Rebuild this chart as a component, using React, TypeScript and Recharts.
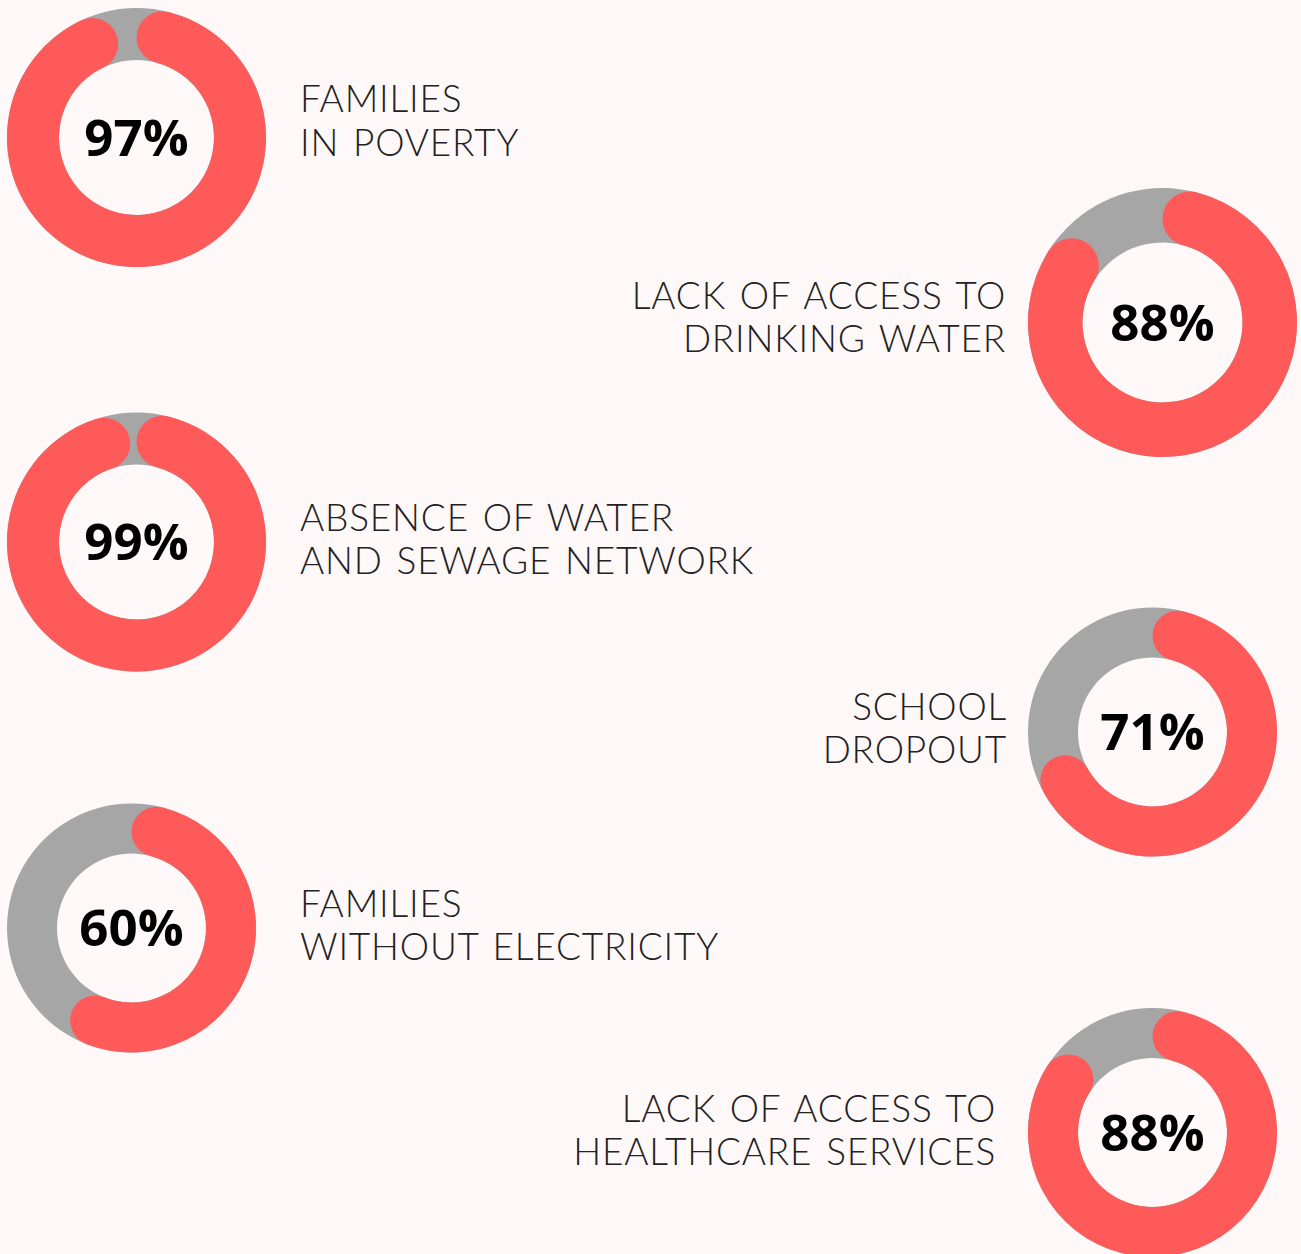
import React from "react";
import { PieChart, Pie, Cell } from "recharts";

// share of households affected, in percent
const values = [97, 88, 99, 71, 60, 88];
const captions = [
  ["FAMILIES", "IN POVERTY"],
  ["LACK OF ACCESS TO", "DRINKING WATER"],
  ["ABSENCE OF WATER", "AND SEWAGE NETWORK"],
  ["SCHOOL", "DROPOUT"],
  ["FAMILIES", "WITHOUT ELECTRICITY"],
  ["LACK OF ACCESS TO", "HEALTHCARE SERVICES"],
];

// layout of each ring and its caption
const rings = [
  { cx: 136.5, cy: 137.5, outer: 129.5, inner: 77.5, tx: 300, anchor: "start", y1: 112, y2: 156 },
  { cx: 1162.5, cy: 322.5, outer: 134.5, inner: 80, tx: 1006, anchor: "end", y1: 309, y2: 352 },
  { cx: 136.5, cy: 542, outer: 129.5, inner: 77.5, tx: 300, anchor: "start", y1: 531, y2: 574 },
  { cx: 1152.5, cy: 732, outer: 124.5, inner: 74.5, tx: 1007, anchor: "end", y1: 720, y2: 763 },
  { cx: 131.5, cy: 928, outer: 124.5, inner: 74.5, tx: 300, anchor: "start", y1: 917, y2: 960 },
  { cx: 1152.5, cy: 1132.5, outer: 124.5, inner: 74.5, tx: 996, anchor: "end", y1: 1122, y2: 1165 },
];

const RED = "#FF5A5A";
const GREY = "#A6A6A6";
const BG = "#FEF8F8";

const captionStyle = {
  fontFamily: "Lato, sans-serif",
  fontWeight: 300,
  fontSize: 37,
  letterSpacing: 0.8,
  wordSpacing: 3,
  fill: "#222",
};

export default function App() {
  return (
    <div style={{ width: 1301, height: 1254, background: BG }}>
      <style>{`body{margin:0;background:${BG}}`}</style>
      <PieChart width={1301} height={1254} margin={{ top: 0, right: 0, bottom: 0, left: 0 }}>
        {rings.map((r, i) => (
          <Pie
            key={`track-${i}`}
            data={[{ name: "track", value: 100 }]}
            dataKey="value"
            cx={r.cx}
            cy={r.cy}
            innerRadius={r.inner}
            outerRadius={r.outer}
            startAngle={90}
            endAngle={-270}
            stroke="none"
            fill={GREY}
            isAnimationActive={false}
          />
        ))}
        {rings.map((r, i) => (
          <Pie
            key={`value-${i}`}
            data={[
              { name: "value", value: values[i] },
              { name: "rest", value: 100 - values[i] },
            ]}
            dataKey="value"
            cx={r.cx}
            cy={r.cy}
            innerRadius={r.inner}
            outerRadius={r.outer}
            startAngle={90}
            endAngle={-270}
            cornerRadius={(r.outer - r.inner) / 2}
            stroke="none"
            isAnimationActive={false}
          >
            <Cell fill={RED} />
            <Cell fill="transparent" />
          </Pie>
        ))}
        {rings.map((r, i) => (
          <g key={`txt-${i}`}>
            <text
              x={r.cx}
              y={r.cy + 18}
              textAnchor="middle"
              fontFamily="'Open Sans', sans-serif"
              fontWeight={700}
              fontSize={51}
              fill="#000"
            >
              {values[i]}%
            </text>
            <text x={r.tx} y={r.y1} textAnchor={r.anchor} style={captionStyle}>
              {captions[i][0]}
            </text>
            <text x={r.tx} y={r.y2} textAnchor={r.anchor} style={captionStyle}>
              {captions[i][1]}
            </text>
          </g>
        ))}
      </PieChart>
    </div>
  );
}
